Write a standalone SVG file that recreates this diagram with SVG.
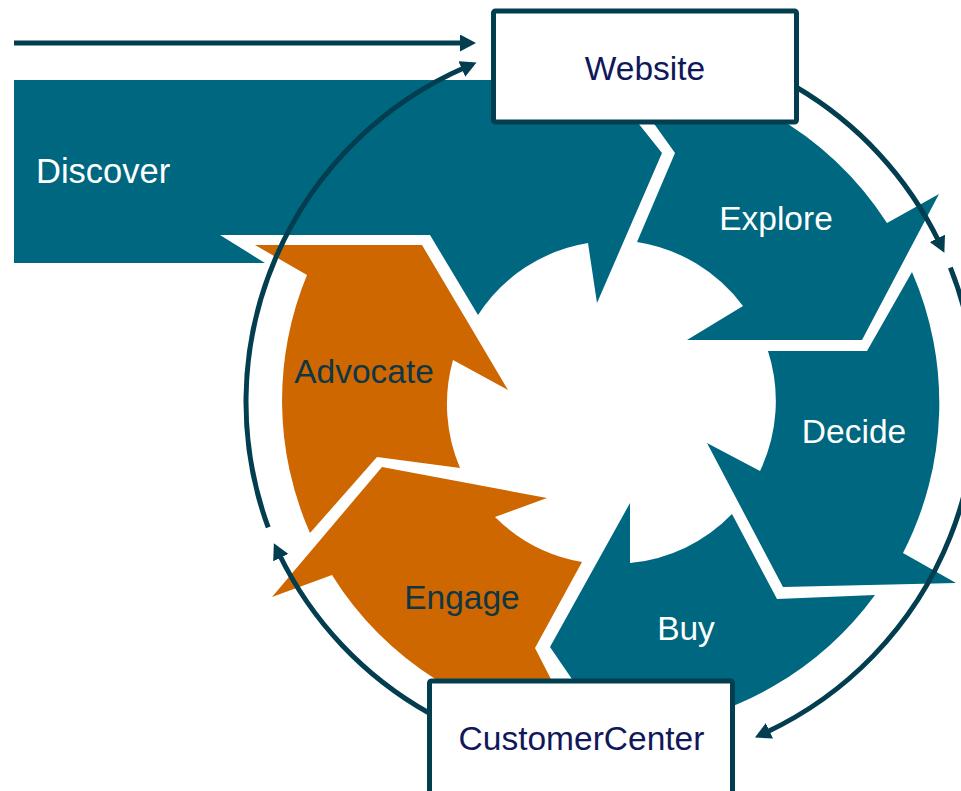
<svg xmlns="http://www.w3.org/2000/svg" width="961" height="791" viewBox="0 0 961 791">
<defs>
<style>
.teal{fill:#006780}
.orange{fill:#CF6700}
.lbl{font-family:"Liberation Sans",Arial,sans-serif;font-size:33.5px}
.w{fill:#ffffff}
.dk{fill:#0F3645}
.nv{fill:#101859}
.box{fill:#ffffff;stroke:#023E4F;stroke-width:5}
.con{fill:none;stroke:#023E4F;stroke-width:5}
</style>
<marker id="ah" markerUnits="userSpaceOnUse" markerWidth="18" markerHeight="18" refX="4" refY="8.5" orient="auto">
<path d="M0,0 L16,8.5 L0,17 Z" fill="#023E4F"/>
</marker>
</defs>
<rect width="961" height="791" fill="#ffffff"/>
<g id="discover">
<path class="teal" d="M14,80 L540,80 L556,20 L662,153 L597,303 L588,243 A162 162 0 0 0 478,315 L430,235 L220,235 L265,263 L14,263 Z"/>
<text class="lbl w" x="36" y="183" style="font-size:34.5px">Discover</text>
</g>
<g id="explore">
<path class="teal" d="M617,72 A328 328 0 0 1 887,223 L939,194 L862,340 L687,340 L743,306 A163 163 0 0 0 637,242 L675,153 Z"/>
<text class="lbl w" x="776" y="230" text-anchor="middle">Explore</text>
</g>
<g id="decide">
<path class="teal" d="M912,272 A328 328 0 0 1 903,553 L956,583 L783,587 L707,443 L760,471 A163 163 0 0 0 768,351 L867,351 Z"/>
<text class="lbl w" x="854" y="443" text-anchor="middle">Decide</text>
</g>
<g id="buy">
<path class="teal" d="M875,595 A328 328 0 0 1 645,728 L648,790 L550,647 L630,503 L630,563 A163 163 0 0 0 732,514 L777,599 Z"/>
<text class="lbl w" x="686" y="640" text-anchor="middle">Buy</text>
</g>
<g id="engage">
<path class="orange" d="M576,728 A328 328 0 0 1 332,575 L272,597 L382,467 L547,498 L495,517 A163 163 0 0 0 582,562 L535,648 Z"/>
<text class="lbl dk" x="462" y="609" text-anchor="middle">Engage</text>
</g>
<g id="advocate">
<path class="orange" d="M310,533 A328 328 0 0 1 307,275 L255,245 L422,245 L508,390 L453,360 A163 163 0 0 0 460,468 L377,457 Z"/>
<text class="lbl dk" x="364" y="383" text-anchor="middle">Advocate</text>
</g>
<g id="website">
<rect class="box" x="493.5" y="11" width="303" height="111" rx="2"/>
<text class="lbl nv" x="645" y="80" text-anchor="middle">Website</text>
</g>
<g id="customercenter">
<rect class="box" x="429.5" y="681" width="303" height="130" rx="2"/>
<text class="lbl nv" x="581.5" y="750" text-anchor="middle">CustomerCenter</text>
</g>
<g id="connectors">
<path class="con" d="M14,43 L464,43" marker-end="url(#ah)"/>
<path class="con" d="M268.2,527.4 A365 365 0 0 1 465.5,67.3" marker-end="url(#ah)"/>
<path class="con" d="M429,713 A365 365 0 0 1 279.1,554.0" marker-end="url(#ah)"/>
<path class="con" d="M796,87 A365 365 0 0 1 939.1,242.0" marker-end="url(#ah)"/>
<path class="con" d="M950.4,267.6 A365 365 0 0 1 765.8,732.5" marker-end="url(#ah)"/>
</g>
</svg>
